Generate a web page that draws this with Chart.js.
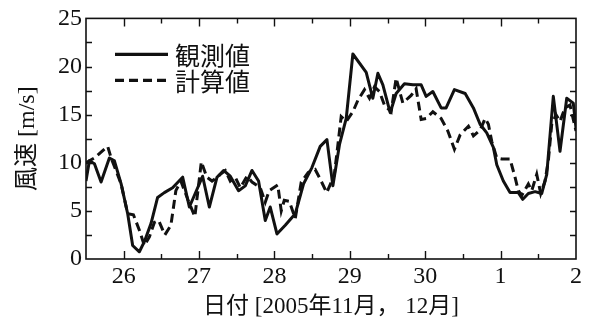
<!DOCTYPE html>
<html>
<head>
<meta charset="utf-8">
<script src="https://cdn.jsdelivr.net/npm/chart.js@4/dist/chart.umd.min.js"></script>
<style>
  html, body { margin: 0; padding: 0; background: #fff; }
  #wrap { width: 592px; height: 324px; }
</style>
</head>
<body>
<div id="wrap"><canvas id="c" width="592" height="324"></canvas></div>
<script>
// Wind speed, observed vs. computed, 25.5 Nov – 2 Dec 2005 (day 31 = 1 Dec, 32 = 2 Dec)
const obsDays = [25.5, 25.545, 25.612, 25.70, 25.81, 25.877, 25.966, 26.053, 26.119, 26.208,
  26.274, 26.363, 26.45, 26.539, 26.649, 26.782, 26.871, 26.937, 27.047, 27.136,
  27.238, 27.325, 27.414, 27.524, 27.613, 27.702, 27.789, 27.878, 27.944, 28.033,
  28.143, 28.276, 28.386, 28.497, 28.607, 28.696, 28.775, 28.863, 28.952, 29.040,
  29.217, 29.305, 29.372, 29.438, 29.535, 29.614, 29.724, 29.836, 29.946, 30.012,
  30.101, 30.211, 30.277, 30.387, 30.53, 30.639, 30.728, 30.816, 30.904, 30.949,
  31.036, 31.125, 31.235, 31.294, 31.368, 31.457, 31.545, 31.612, 31.699, 31.788,
  31.877, 31.964, 32.0];
const obsSpeed = [8.1, 10.2, 9.9, 8.0, 10.5, 10.2, 7.8, 4.7, 1.4, 0.75,
  1.8, 3.7, 6.4, 6.9, 7.4, 8.5, 5.4, 6.6, 8.6, 5.4,
  8.5, 9.2, 8.6, 7.1, 7.6, 9.2, 8.1, 4.0, 5.4, 2.6,
  3.5, 4.7, 7.8, 9.5, 11.7, 12.4, 7.6, 11.9, 14.6, 21.3,
  19.4, 16.7, 19.3, 18.1, 15.2, 17.2, 18.2, 18.1, 18.1, 16.9,
  17.4, 15.7, 15.7, 17.6, 17.2, 15.7, 14.0, 13.1, 11.6, 9.8,
  8.1, 6.9, 6.9, 6.2, 6.8, 7.0, 6.8, 8.8, 16.9, 11.2,
  16.7, 16.2, 13.6];

const calcDays = [25.5, 25.612, 25.788, 25.833, 25.966, 26.053, 26.129, 26.208, 26.274, 26.341,
  26.407, 26.464, 26.546, 26.626, 26.692, 26.758, 26.855, 26.944, 27.030, 27.103,
  27.172, 27.243, 27.282, 27.348, 27.414, 27.480, 27.547, 27.635, 27.702, 27.812,
  27.878, 27.93, 28.044, 28.09, 28.13, 28.196, 28.276, 28.355, 28.448, 28.54,
  28.607, 28.693, 28.793, 28.842, 28.885, 28.952, 29.04, 29.107, 29.194, 29.26,
  29.327, 29.393, 29.459, 29.548, 29.614, 29.703, 29.813, 29.879, 29.946, 30.012,
  30.101, 30.211, 30.30, 30.387, 30.463, 30.573, 30.639, 30.728, 30.794, 30.838,
  30.883, 30.949, 31.015, 31.125, 31.191, 31.235, 31.28, 31.368, 31.413, 31.479,
  31.532, 31.589, 31.633, 31.678, 31.735, 31.788, 31.854, 31.92, 32.0];
const calcSpeed = [10.0, 10.5, 11.7, 10.5, 7.8, 4.7, 4.6, 3.0, 1.4, 2.3,
  3.8, 4.0, 2.5, 3.5, 7.1, 8.1, 6.1, 4.4, 10.1, 8.5,
  8.1, 8.5, 8.8, 9.2, 8.1, 8.5, 7.4, 8.6, 8.0, 7.4,
  5.9, 7.1, 7.7, 5.0, 6.1, 6.0, 4.2, 8.0, 9.0, 9.3,
  8.3, 6.9, 8.7, 11.9, 14.8, 14.3, 15.3, 16.5, 17.6, 16.7,
  17.9, 17.4, 16.0, 15.3, 18.8, 16.2, 17.0, 17.7, 14.5, 14.6,
  15.3, 14.6, 13.3, 11.4, 12.9, 13.8, 12.8, 13.4, 14.6, 14.0,
  12.2, 10.5, 10.4, 10.4, 8.5, 7.1, 6.6, 7.8, 7.1, 8.8,
  6.8, 8.1, 10.2, 14.0, 15.0, 14.3, 15.7, 16.0, 13.3];

const dayTicks = [26, 27, 28, 29, 30, 31, 32];
const dayLabels = ['26', '27', '28', '29', '30', '1', '2'];
const speedTicks = [0, 5, 10, 15, 20, 25];

const seriesNames = ['観測値', '計算値'];
const xTitle = '日付 [2005年11月， 12月]';
const yTitle = '風速 [m/s]';

const INK = '#111';
const SERIF = '"Liberation Serif", "Noto Sans CJK JP", serif';
const CJK = '"Noto Sans CJK JP", "Liberation Serif", sans-serif';

function toPoints(xs, ys) { return xs.map((x, i) => ({ x: x, y: ys[i] })); }

// Frame, inward tick marks and the in-plot legend
const framePlugin = {
  id: 'frame',
  afterDatasetsDraw(chart) {
    const { ctx, chartArea: a, scales } = chart;
    const xs = scales.x, ys = scales.y;
    ctx.save();
    ctx.strokeStyle = INK;
    ctx.lineWidth = 1.6;
    ctx.strokeRect(a.left, a.top, a.right - a.left, a.bottom - a.top);

    ctx.lineWidth = 1.4;
    ctx.beginPath();
    for (let d = 26; d <= 31.5; d += 0.5) {
      const px = Math.round(xs.getPixelForValue(d)) + 0.5;
      const len = Number.isInteger(d) ? 8 : 5;
      ctx.moveTo(px, a.bottom); ctx.lineTo(px, a.bottom - len);
      ctx.moveTo(px, a.top); ctx.lineTo(px, a.top + len);
    }
    for (let v = 2.5; v < 25; v += 2.5) {
      const py = Math.round(ys.getPixelForValue(v)) + 0.5;
      ctx.moveTo(a.left, py); ctx.lineTo(a.left + 6, py);
      ctx.moveTo(a.right, py); ctx.lineTo(a.right - 6, py);
    }
    ctx.stroke();

    // legend
    const lx0 = a.left + 29, lx1 = a.left + 82, tx = a.left + 89;
    const rows = [a.top + 36, a.top + 62];
    chart.data.datasets.forEach((ds, i) => {
      const y = rows[i];
      ctx.strokeStyle = INK;
      ctx.lineWidth = 3.2;
      ctx.setLineDash(ds.borderDash || []);
      ctx.beginPath();
      ctx.moveTo(lx0, y); ctx.lineTo(lx1, y);
      ctx.stroke();
      ctx.setLineDash([]);
      ctx.fillStyle = INK;
      ctx.font = '25px ' + CJK;
      ctx.textBaseline = 'middle';
      ctx.textAlign = 'left';
      ctx.fillText(ds.label, tx, y + 1);
    });
    ctx.restore();
  }
};

new Chart(document.getElementById('c'), {
  type: 'line',
  data: {
    datasets: [
      {
        label: seriesNames[0],
        data: toPoints(obsDays, obsSpeed),
        borderColor: INK,
        borderWidth: 3,
        pointRadius: 0,
        tension: 0,
        borderJoinStyle: 'round'
      },
      {
        label: seriesNames[1],
        data: toPoints(calcDays, calcSpeed),
        borderColor: INK,
        borderWidth: 3,
        borderDash: [9, 5],
        pointRadius: 0,
        tension: 0
      }
    ]
  },
  options: {
    responsive: false,
    animation: false,
    devicePixelRatio: 1,
    layout: { padding: { top: 16, right: 16, left: 0, bottom: 0 } },
    plugins: { legend: { display: false }, tooltip: { enabled: false } },
    scales: {
      x: {
        type: 'linear',
        min: 25.5,
        max: 32,
        afterBuildTicks(scale) { scale.ticks = dayTicks.map(v => ({ value: v })); },
        afterFit(scale) { scale.height = 65; },
        grid: { display: false, drawTicks: false },
        border: { display: false },
        ticks: {
          autoSkip: false,
          maxRotation: 0,
          padding: 3,
          color: INK,
          font: { family: SERIF, size: 24 },
          callback(v) { const i = dayTicks.indexOf(v); return i >= 0 ? dayLabels[i] : ''; }
        },
        title: {
          display: true,
          text: xTitle,
          color: INK,
          font: { family: SERIF, size: 23 },
          padding: { top: 0, bottom: 3 }
        }
      },
      y: {
        min: 0,
        max: 25,
        afterBuildTicks(scale) { scale.ticks = speedTicks.map(v => ({ value: v })); },
        afterFit(scale) { scale.width = 86; },
        grid: { display: false, drawTicks: false },
        border: { display: false },
        ticks: {
          padding: 4,
          color: INK,
          font: { family: SERIF, size: 24 }
        },
        title: {
          display: true,
          text: yTitle,
          color: INK,
          font: { family: SERIF, size: 24 },
          padding: { top: 13, bottom: 0 }
        }
      }
    }
  },
  plugins: [framePlugin]
});
</script>
</body>
</html>
